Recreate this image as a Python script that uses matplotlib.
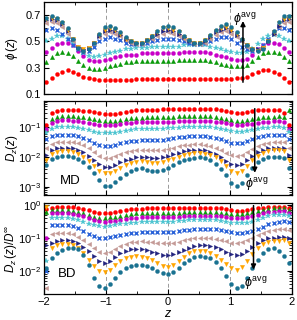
import numpy as np
import matplotlib
matplotlib.use("Agg")
import matplotlib.pyplot as plt
from matplotlib.ticker import FixedLocator, LogLocator, NullFormatter

plt.rcParams['font.family'] = ['Liberation Sans', 'DejaVu Sans']
plt.rcParams['mathtext.fontset'] = 'custom'
plt.rcParams['mathtext.rm'] = 'Liberation Sans'
plt.rcParams['mathtext.it'] = 'Liberation Sans:italic'
plt.rcParams['font.size'] = 8

# ---------------- data ----------------
z = np.linspace(-1.96, 1.96, 47)

series_names = ['red', 'green', 'magenta', 'cyan', 'blue', 'brown', 'navy', 'orange', 'teal']
colors = ['#ff0000', '#0a9a0a', '#c800c8', '#4cc4d0', '#2a62d8', '#c49a96', '#22237e', '#ffa500', '#1a7291']
markers = ['o', '^', 'o', '*', 'x', '<', '>', 'v', 'o']

phi_red = [0.19,0.22,0.25,0.27,0.28,0.27,0.25,0.23,0.22,0.215,0.21,0.21,0.21,0.21,0.21,0.21,0.21,0.215,0.215,0.215,0.215,0.215,0.215,0.215,0.215,0.215,0.215,0.215,0.215,0.215,0.215,0.215,0.215,0.215,0.215,0.215,0.22,0.22,0.23,0.25,0.27,0.28,0.28,0.27,0.25,0.22,0.19]
phi_green = [0.34,0.38,0.41,0.42,0.41,0.39,0.35,0.32,0.30,0.29,0.29,0.30,0.31,0.32,0.33,0.34,0.34,0.35,0.35,0.35,0.35,0.35,0.35,0.35,0.35,0.36,0.36,0.36,0.36,0.36,0.36,0.35,0.34,0.33,0.32,0.31,0.31,0.31,0.32,0.35,0.38,0.41,0.42,0.42,0.41,0.38,0.35]
phi_magenta = [0.42,0.45,0.48,0.49,0.49,0.47,0.43,0.39,0.36,0.35,0.35,0.36,0.37,0.38,0.39,0.40,0.40,0.40,0.41,0.41,0.41,0.41,0.41,0.41,0.41,0.41,0.42,0.42,0.42,0.42,0.42,0.41,0.40,0.39,0.38,0.37,0.36,0.36,0.37,0.40,0.44,0.47,0.49,0.49,0.48,0.45,0.42]
phi_cyan = [0.50,0.52,0.54,0.54,0.52,0.49,0.45,0.41,0.39,0.38,0.39,0.40,0.41,0.42,0.43,0.44,0.44,0.45,0.45,0.45,0.46,0.46,0.46,0.46,0.46,0.46,0.47,0.47,0.47,0.47,0.47,0.46,0.45,0.44,0.43,0.42,0.41,0.41,0.42,0.44,0.48,0.52,0.54,0.55,0.54,0.52,0.50]
phi_blue = [0.59,0.60,0.59,0.56,0.52,0.47,0.44,0.42,0.43,0.46,0.50,0.52,0.53,0.52,0.51,0.49,0.48,0.48,0.48,0.49,0.50,0.51,0.52,0.52,0.52,0.51,0.50,0.49,0.48,0.48,0.49,0.50,0.52,0.53,0.53,0.52,0.49,0.46,0.44,0.43,0.44,0.47,0.52,0.57,0.60,0.60,0.59]
phi_brown = [0.64,0.65,0.64,0.61,0.56,0.50,0.45,0.43,0.45,0.49,0.53,0.56,0.57,0.56,0.54,0.51,0.49,0.48,0.48,0.50,0.52,0.54,0.56,0.57,0.56,0.54,0.52,0.50,0.48,0.48,0.49,0.52,0.55,0.57,0.58,0.56,0.53,0.50,0.46,0.44,0.44,0.46,0.51,0.56,0.61,0.64,0.65]
phi_navy = [0.66,0.67,0.66,0.63,0.58,0.52,0.46,0.44,0.45,0.49,0.54,0.58,0.59,0.58,0.55,0.52,0.50,0.49,0.49,0.51,0.53,0.56,0.58,0.59,0.58,0.56,0.53,0.50,0.49,0.49,0.50,0.53,0.57,0.59,0.60,0.58,0.55,0.51,0.47,0.44,0.44,0.45,0.50,0.56,0.62,0.66,0.67]
phi_orange = [0.67,0.68,0.67,0.64,0.59,0.52,0.46,0.44,0.45,0.49,0.55,0.59,0.60,0.59,0.56,0.52,0.50,0.49,0.49,0.51,0.54,0.57,0.60,0.60,0.59,0.57,0.53,0.51,0.49,0.49,0.51,0.54,0.58,0.60,0.61,0.59,0.56,0.51,0.47,0.44,0.43,0.45,0.50,0.57,0.64,0.67,0.68]
phi_teal = [0.68,0.69,0.68,0.65,0.60,0.52,0.45,0.43,0.44,0.49,0.56,0.61,0.62,0.60,0.57,0.53,0.505,0.49,0.49,0.51,0.54,0.58,0.61,0.62,0.61,0.58,0.54,0.51,0.49,0.49,0.51,0.55,0.59,0.62,0.63,0.61,0.57,0.52,0.47,0.44,0.43,0.44,0.50,0.58,0.65,0.69,0.69]

md_red = [0.12,0.3,0.36,0.37,0.375,0.375,0.37,0.36,0.345,0.325,0.3,0.28,0.275,0.285,0.305,0.33,0.35,0.365,0.375,0.38,0.385,0.39,0.395,0.4,0.405,0.41,0.415,0.42,0.42,0.42,0.415,0.41,0.4,0.38,0.35,0.315,0.295,0.3,0.32,0.345,0.365,0.38,0.385,0.385,0.38,0.3,0.12]
md_green = [0.09,0.19,0.225,0.235,0.235,0.232,0.225,0.215,0.2,0.185,0.17,0.16,0.158,0.163,0.175,0.188,0.198,0.205,0.21,0.213,0.215,0.217,0.219,0.222,0.226,0.23,0.234,0.237,0.238,0.238,0.236,0.232,0.224,0.21,0.193,0.175,0.163,0.162,0.17,0.185,0.2,0.213,0.222,0.228,0.23,0.22,0.37]
md_magenta = [0.085,0.14,0.165,0.17,0.17,0.168,0.162,0.153,0.142,0.13,0.12,0.115,0.115,0.12,0.128,0.136,0.142,0.146,0.148,0.149,0.15,0.15,0.151,0.153,0.156,0.159,0.162,0.164,0.165,0.165,0.164,0.161,0.155,0.146,0.135,0.124,0.118,0.118,0.124,0.133,0.142,0.15,0.156,0.16,0.16,0.155,0.09]
md_cyan = [0.065,0.09,0.1,0.102,0.102,0.1,0.095,0.088,0.079,0.071,0.065,0.063,0.063,0.066,0.071,0.077,0.082,0.085,0.087,0.088,0.088,0.089,0.09,0.092,0.095,0.098,0.1,0.102,0.103,0.103,0.102,0.1,0.096,0.09,0.083,0.076,0.072,0.072,0.076,0.082,0.088,0.093,0.097,0.099,0.1,0.098,0.07]
md_blue = [0.042,0.05,0.054,0.056,0.056,0.055,0.05,0.045,0.038,0.031,0.026,0.024,0.024,0.026,0.029,0.032,0.034,0.036,0.037,0.037,0.037,0.037,0.038,0.04,0.043,0.046,0.049,0.051,0.052,0.052,0.051,0.049,0.045,0.04,0.035,0.031,0.03,0.031,0.035,0.04,0.046,0.051,0.054,0.056,0.056,0.054,0.04]
md_brown = [0.02,0.028,0.032,0.033,0.033,0.032,0.029,0.025,0.02,0.015,0.011,0.0095,0.0095,0.011,0.013,0.015,0.016,0.017,0.017,0.017,0.017,0.017,0.018,0.019,0.021,0.023,0.025,0.026,0.027,0.027,0.026,0.024,0.021,0.017,0.014,0.012,0.011,0.012,0.015,0.019,0.024,0.028,0.031,0.033,0.033,0.032,0.02]
md_navy = [0.012,0.018,0.02,0.021,0.021,0.02,0.018,0.015,0.011,0.008,0.0058,0.0048,0.0048,0.0055,0.0068,0.008,0.009,0.0098,0.01,0.0098,0.0095,0.0095,0.01,0.011,0.0125,0.014,0.016,0.017,0.0175,0.0175,0.017,0.0155,0.013,0.01,0.0075,0.006,0.0055,0.006,0.008,0.011,0.015,0.018,0.02,0.021,0.021,0.02,0.012]
md_orange = [0.008,0.013,0.015,0.016,0.016,0.015,0.013,0.01,0.0075,0.005,0.0035,0.003,0.003,0.0035,0.0045,0.0055,0.0065,0.007,0.0072,0.007,0.0065,0.0065,0.007,0.0078,0.009,0.0105,0.012,0.013,0.0135,0.0135,0.013,0.012,0.01,0.0075,0.005,0.0035,0.003,0.0035,0.005,0.008,0.011,0.014,0.016,0.017,0.017,0.016,0.008]
md_teal = [0.0055,0.009,0.0105,0.011,0.011,0.0105,0.009,0.007,0.0048,0.003,0.0017,0.0011,0.0011,0.0015,0.002,0.0028,0.0035,0.004,0.0042,0.0038,0.0035,0.0035,0.0038,0.0045,0.0055,0.0068,0.008,0.009,0.0097,0.0098,0.0092,0.008,0.006,0.004,0.0025,0.0014,0.0011,0.0014,0.0025,0.0045,0.007,0.009,0.0098,0.01,0.01,0.0095,0.0045]

bd_red = [0.75,0.83,0.85,0.86,0.86,0.85,0.82,0.76,0.68,0.61,0.56,0.55,0.57,0.62,0.67,0.71,0.74,0.76,0.77,0.78,0.78,0.78,0.78,0.78,0.78,0.78,0.79,0.79,0.8,0.8,0.8,0.8,0.79,0.78,0.75,0.7,0.66,0.65,0.68,0.73,0.78,0.83,0.86,0.88,0.89,0.89,0.8]
bd_green = [0.6,0.68,0.7,0.7,0.69,0.67,0.62,0.56,0.49,0.44,0.415,0.41,0.42,0.44,0.47,0.5,0.53,0.55,0.56,0.565,0.57,0.57,0.57,0.57,0.575,0.58,0.59,0.6,0.6,0.6,0.6,0.6,0.59,0.58,0.56,0.53,0.52,0.52,0.55,0.6,0.66,0.72,0.77,0.8,0.81,0.8,0.72]
bd_magenta = [0.1,0.55,0.57,0.57,0.56,0.54,0.5,0.45,0.39,0.34,0.315,0.31,0.315,0.33,0.355,0.38,0.4,0.41,0.42,0.425,0.43,0.43,0.43,0.43,0.435,0.44,0.45,0.46,0.47,0.47,0.47,0.465,0.46,0.45,0.43,0.41,0.4,0.4,0.42,0.45,0.5,0.55,0.6,0.63,0.64,0.64,0.58]
bd_cyan = [0.02,0.39,0.4,0.4,0.395,0.38,0.35,0.31,0.27,0.24,0.225,0.22,0.225,0.24,0.255,0.27,0.28,0.29,0.295,0.3,0.3,0.3,0.3,0.305,0.31,0.32,0.33,0.34,0.35,0.35,0.35,0.345,0.34,0.33,0.31,0.29,0.28,0.28,0.29,0.31,0.35,0.4,0.45,0.48,0.5,0.5,0.45]
bd_blue = [0.01,0.24,0.25,0.25,0.245,0.23,0.2,0.165,0.135,0.113,0.102,0.1,0.104,0.112,0.123,0.133,0.14,0.145,0.148,0.149,0.149,0.149,0.15,0.152,0.156,0.162,0.17,0.178,0.186,0.19,0.19,0.188,0.183,0.175,0.163,0.15,0.142,0.142,0.15,0.165,0.19,0.22,0.26,0.29,0.31,0.33,0.3]
bd_brown = [0.003,0.13,0.14,0.145,0.14,0.13,0.11,0.085,0.065,0.048,0.038,0.035,0.038,0.046,0.056,0.066,0.073,0.077,0.078,0.077,0.075,0.072,0.07,0.07,0.072,0.077,0.084,0.092,0.098,0.1,0.1,0.098,0.093,0.086,0.078,0.072,0.07,0.073,0.085,0.1,0.12,0.14,0.16,0.17,0.18,0.19,0.17]
bd_navy = [0.06,0.07,0.08,0.085,0.085,0.08,0.07,0.055,0.04,0.028,0.02,0.018,0.02,0.026,0.034,0.041,0.045,0.046,0.045,0.042,0.038,0.034,0.031,0.03,0.032,0.037,0.044,0.051,0.057,0.06,0.06,0.058,0.053,0.046,0.038,0.032,0.03,0.032,0.04,0.053,0.07,0.085,0.097,0.103,0.107,0.11,0.1]
bd_orange = [0.85,0.05,0.06,0.065,0.065,0.06,0.05,0.035,0.022,0.014,0.01,0.009,0.011,0.015,0.02,0.025,0.027,0.028,0.027,0.025,0.021,0.017,0.014,0.013,0.015,0.02,0.027,0.034,0.039,0.04,0.039,0.035,0.029,0.022,0.016,0.012,0.011,0.013,0.02,0.032,0.05,0.065,0.075,0.08,0.082,0.085,0.07]
bd_teal = [0.012,0.025,0.035,0.042,0.048,0.05,0.045,0.03,0.015,0.006,0.0035,0.003,0.004,0.006,0.009,0.012,0.014,0.015,0.015,0.014,0.012,0.01,0.0085,0.008,0.009,0.012,0.017,0.022,0.026,0.028,0.027,0.024,0.019,0.012,0.007,0.004,0.003,0.0035,0.006,0.012,0.022,0.035,0.045,0.048,0.04,0.028,0.018]

phi_data = [phi_red, phi_green, phi_magenta, phi_cyan, phi_blue, phi_brown, phi_navy, phi_orange, phi_teal]
md_data = [md_red, md_green, md_magenta, md_cyan, md_blue, md_brown, md_navy, md_orange, md_teal]
bd_data = [bd_red, bd_green, bd_magenta, bd_cyan, bd_blue, bd_brown, bd_navy, bd_orange, bd_teal]

# ---------------- figure ----------------
fig = plt.figure(figsize=(2.97, 3.2), dpi=100)
L, W = 0.148, 0.835
ax1 = fig.add_axes([L, 0.706, W, 0.288])
ax2 = fig.add_axes([L, 0.391, W, 0.293])
ax3 = fig.add_axes([L, 0.081, W, 0.285])

def draw(ax, data):
    for d, c, m in zip(data, colors, markers):
        if m == 'x':
            ax.plot(z, d, linestyle='none', marker=m, color=c, ms=3.0, mew=1.0)
        elif m == '*':
            ax.plot(z, d, linestyle='none', marker=m, color=c, ms=4.3, mew=0.2)
        elif m == 'o':
            ax.plot(z, d, linestyle='none', marker=m, color=c, ms=3.0, mew=0.2)
        else:
            ax.plot(z, d, linestyle='none', marker=m, color=c, ms=3.2, mew=0.2)
    for xv in (-1, 0, 1):
        ax.axvline(xv, color='#9a9a9a', lw=0.7, ls=(0, (4, 3)), zorder=0)
    ax.set_xlim(-2, 2)
    ax.xaxis.set_major_locator(FixedLocator([-2, -1, 0, 1, 2]))
    ax.xaxis.set_minor_locator(FixedLocator([-1.5, -0.5, 0.5, 1.5]))
    ax.tick_params(which='both', direction='in', top=True, right=True, labelsize=8, pad=2)
    ax.tick_params(which='major', length=3.5, width=0.8)
    ax.tick_params(which='minor', length=2, width=0.6)
    for s in ax.spines.values():
        s.set_linewidth(0.9)

draw(ax1, phi_data)
draw(ax2, md_data)
draw(ax3, bd_data)

ax1.set_ylim(0.1, 0.8)
ax1.yaxis.set_major_locator(FixedLocator([0.1, 0.3, 0.5, 0.7]))
ax1.yaxis.set_minor_locator(FixedLocator([0.2, 0.4, 0.6]))
ax1.set_xticklabels([])

for ax, lo, hi in ((ax2, 5.5e-4, 0.75), (ax3, 2e-3, 1.15)):
    ax.set_yscale('log')
    ax.set_ylim(lo, hi)
    ax.yaxis.set_major_locator(LogLocator(base=10, numticks=10))
    ax.yaxis.set_minor_locator(LogLocator(base=10, subs=np.arange(2, 10), numticks=10))
    ax.yaxis.set_minor_formatter(NullFormatter())
ax2.set_xticklabels([])

ax1.set_ylabel(r'$\phi\,(z)$', fontsize=8.5)
ax2.set_ylabel(r'$D_z(z)$', fontsize=8.5)
ax3.set_ylabel(r'$D_z\,(z)/D^{\infty}$', fontsize=8.5)
ax3.set_xlabel(r'$z$', fontsize=9, labelpad=1)
for ax in (ax1, ax2, ax3):
    ax.yaxis.set_label_coords(-0.095, 0.5)

ax2.text(-1.58, 1.6e-3, 'MD', fontsize=9.5, ha='center', va='center')
ax3.text(-1.62, 8e-3, 'BD', fontsize=9.5, ha='center', va='center')

arrow = dict(arrowstyle='-|>', color='k', lw=1.1, mutation_scale=7, shrinkA=0, shrinkB=0)
ax1.annotate('', xy=(1.21, 0.655), xytext=(1.21, 0.19), arrowprops=arrow)
ax1.text(1.05, 0.67, r'$\phi^{\mathrm{avg}}$', fontsize=9, ha='left', va='center')
ax2.annotate('', xy=(1.40, 3.0e-3), xytext=(1.40, 0.42), arrowprops=arrow)
ax2.text(1.25, 1.2e-3, r'$\phi^{\mathrm{avg}}$', fontsize=9, ha='left', va='center')
ax3.annotate('', xy=(1.38, 1.1e-2), xytext=(1.38, 0.95), arrowprops=arrow)
ax3.text(1.23, 4.2e-3, r'$\phi^{\mathrm{avg}}$', fontsize=9, ha='left', va='center')

fig.savefig('out.png', dpi=100)
